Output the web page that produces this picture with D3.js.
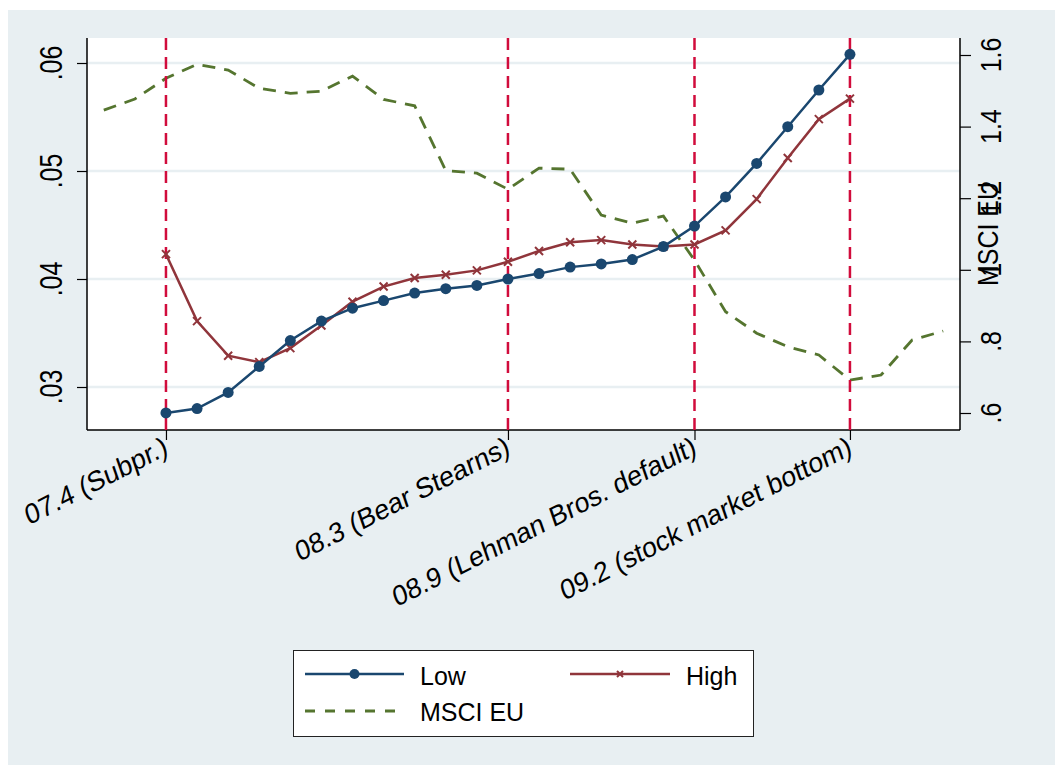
<!DOCTYPE html>
<html>
<head>
<meta charset="utf-8">
<script src="https://cdn.jsdelivr.net/npm/d3@7"></script>
<style>
  html, body { margin: 0; padding: 0; background: #fff; }
  svg text { font-family: "Liberation Sans", Arial, Helvetica, sans-serif; fill: #000; }
</style>
</head>
<body>
<div id="chart"></div>
<script>
// months on the x axis (MSCI runs longer than the rate series)
const months = ['07.2','07.3','07.4','07.5','07.6','07.7','07.8','07.9','07.10','07.11','07.12',
  '08.1','08.2','08.3','08.4','08.5','08.6','08.7','08.8','08.9','08.10','08.11','08.12',
  '09.1','09.2','09.3','09.4','09.5'];
const rateMonths = months.slice(2, 25); // 07.4 .. 09.2

const lowValues = [0.0276, 0.0280, 0.0295, 0.0319, 0.0343, 0.0361, 0.0373, 0.0380, 0.0387, 0.0391,
  0.0394, 0.0400, 0.0405, 0.0411, 0.0414, 0.0418, 0.0430, 0.0449, 0.0476, 0.0507, 0.0541, 0.0575, 0.0608];
const highValues = [0.0423, 0.0361, 0.0329, 0.0323, 0.0336, 0.0357, 0.0379, 0.0393, 0.0401, 0.0404,
  0.0408, 0.0416, 0.0426, 0.0434, 0.0436, 0.0432, 0.0430, 0.0432, 0.0445, 0.0474, 0.0512, 0.0548, 0.0567];
const msciValues = [1.446, 1.477, 1.535, 1.574, 1.558, 1.507, 1.493, 1.499, 1.541, 1.476, 1.458,
  1.277, 1.270, 1.225, 1.284, 1.281, 1.153, 1.130, 1.150, 1.027, 0.883, 0.823, 0.785, 0.762,
  0.692, 0.706, 0.804, 0.829];

const eventMonths = ['07.4', '08.3', '08.9', '09.2'];
const eventLabels = ['07.4 (Subpr.)', '08.3 (Bear Stearns)', '08.9 (Lehman Bros. default)', '09.2 (stock market bottom)'];

const leftTicks = [0.03, 0.04, 0.05, 0.06];
const leftTickLabels = ['.03', '.04', '.05', '.06'];
const rightTicks = [0.6, 0.8, 1.0, 1.2, 1.4, 1.6];
const rightTickLabels = ['.6', '.8', '1', '1.2', '1.4', '1.6'];

const W = 1055, H = 765;
const plot = { left: 87, right: 960, top: 38, bottom: 430 };

const colLow = '#1a476f', colHigh = '#90353b', colMsci = '#55752f', colEvent = '#d10c3c';

const svg = d3.select('#chart').append('svg')
  .attr('width', W).attr('height', H);

svg.append('rect').attr('x', 8).attr('y', 10).attr('width', W - 8).attr('height', H - 10)
  .attr('fill', '#e8eff2');
svg.append('rect').attr('x', plot.left).attr('y', plot.top)
  .attr('width', plot.right - plot.left).attr('height', plot.bottom - plot.top)
  .attr('fill', '#fff');

const x = d3.scalePoint().domain(months).range([plot.left, plot.right]).padding(0.54);
const yL = d3.scaleLinear().domain([0.026019, 0.062315]).range([plot.bottom, plot.top]);
const yR = d3.scaleLinear().domain([0.55251, 1.64749]).range([plot.bottom, plot.top]);

// gridlines on left ticks
svg.append('g').selectAll('line').data(leftTicks).enter().append('line')
  .attr('x1', plot.left).attr('x2', plot.right)
  .attr('y1', d => yL(d)).attr('y2', d => yL(d))
  .attr('stroke', '#e8eff2').attr('stroke-width', 2.5);

// left axis
const gl = svg.append('g').attr('transform', `translate(${plot.left},0)`)
  .call(d3.axisLeft(yL).tickValues(leftTicks).tickSize(10).tickFormat(''));
gl.select('.domain').attr('d', `M0,${plot.top}V${plot.bottom}`).attr('stroke', '#000').attr('stroke-width', 1.5);
gl.selectAll('.tick line').attr('stroke', '#000').attr('stroke-width', 1.2);
svg.append('g').selectAll('text').data(leftTicks).enter().append('text')
  .attr('transform', d => `translate(62,${yL(d)}) scale(1.22,1) rotate(-90)`)
  .attr('text-anchor', 'middle').attr('font-size', 25)
  .text((d, i) => leftTickLabels[i]);

// right axis
const gr = svg.append('g').attr('transform', `translate(${plot.right},0)`)
  .call(d3.axisRight(yR).tickValues(rightTicks).tickSize(11).tickFormat(''));
gr.select('.domain').attr('d', `M0,${plot.top}V${plot.bottom}`).attr('stroke', '#000').attr('stroke-width', 1.5);
gr.selectAll('.tick line').attr('stroke', '#000').attr('stroke-width', 1.2);
svg.append('g').selectAll('text').data(rightTicks).enter().append('text')
  .attr('transform', d => `translate(1001,${yR(d)}) scale(1.2,1) rotate(-90)`)
  .attr('text-anchor', 'middle').attr('font-size', 25)
  .text((d, i) => rightTickLabels[i]);
svg.append('text')
  .attr('transform', `translate(998,${(plot.top + plot.bottom) / 2}) scale(1.15,1) rotate(-90)`)
  .attr('text-anchor', 'middle').attr('font-size', 25)
  .text('MSCI EU');

// bottom axis
const gb = svg.append('g').attr('transform', `translate(0,${plot.bottom})`)
  .call(d3.axisBottom(x).tickValues(eventMonths).tickSize(10).tickFormat(''));
gb.select('.domain').attr('d', `M${plot.left},0H${plot.right}`).attr('stroke', '#000').attr('stroke-width', 1.5);
gb.selectAll('.tick line').attr('stroke', '#000').attr('stroke-width', 1.2);
svg.append('g').selectAll('text').data(eventMonths).enter().append('text')
  .attr('transform', d => `translate(${x(d) - 3},${plot.bottom + 5}) rotate(-27) skewX(-8)`)
  .attr('text-anchor', 'end').attr('dy', '0.72em').attr('font-size', 27.3)
  .text((d, i) => eventLabels[i]);

// MSCI dashed line
const msciLine = d3.line().x((d, i) => x(months[i])).y(d => yR(d));
svg.append('path').datum(msciValues)
  .attr('d', msciLine).attr('fill', 'none')
  .attr('stroke', colMsci).attr('stroke-width', 2.8).attr('stroke-dasharray', '13,9');

// event lines
svg.append('g').selectAll('line').data(eventMonths).enter().append('line')
  .attr('x1', d => x(d)).attr('x2', d => x(d))
  .attr('y1', plot.top).attr('y2', plot.bottom)
  .attr('stroke', colEvent).attr('stroke-width', 2.5).attr('stroke-dasharray', '12,7');

// High series
const rateLine = d3.line().x((d, i) => x(rateMonths[i])).y(d => yL(d));
svg.append('path').datum(highValues)
  .attr('d', rateLine).attr('fill', 'none')
  .attr('stroke', colHigh).attr('stroke-width', 2.5);
const xMark = s => `M${-s},${-s}L${s},${s}M${-s},${s}L${s},${-s}`;
svg.append('g').selectAll('path').data(highValues).enter().append('path')
  .attr('transform', (d, i) => `translate(${x(rateMonths[i])},${yL(d)})`)
  .attr('d', xMark(4)).attr('stroke', colHigh).attr('stroke-width', 2);

// Low series
svg.append('path').datum(lowValues)
  .attr('d', rateLine).attr('fill', 'none')
  .attr('stroke', colLow).attr('stroke-width', 2.5);
svg.append('g').selectAll('circle').data(lowValues).enter().append('circle')
  .attr('cx', (d, i) => x(rateMonths[i])).attr('cy', d => yL(d))
  .attr('r', 5.5).attr('fill', colLow);

// legend
const lg = svg.append('g');
lg.append('rect').attr('x', 293.5).attr('y', 650.5).attr('width', 460).attr('height', 86)
  .attr('fill', '#fff').attr('stroke', '#222').attr('stroke-width', 1);
lg.append('line').attr('x1', 305).attr('x2', 404).attr('y1', 674).attr('y2', 674)
  .attr('stroke', colLow).attr('stroke-width', 2.5);
lg.append('circle').attr('cx', 354.5).attr('cy', 674).attr('r', 5).attr('fill', colLow);
lg.append('text').attr('x', 420).attr('y', 685).attr('font-size', 25).text('Low');
lg.append('line').attr('x1', 570).attr('x2', 670).attr('y1', 674).attr('y2', 674)
  .attr('stroke', colHigh).attr('stroke-width', 2.5);
lg.append('path').attr('transform', 'translate(620,674)').attr('d', xMark(3))
  .attr('stroke', colHigh).attr('stroke-width', 2);
lg.append('text').attr('x', 686).attr('y', 685).attr('font-size', 25).text('High');
lg.append('line').attr('x1', 305).attr('x2', 404).attr('y1', 711).attr('y2', 711)
  .attr('stroke', colMsci).attr('stroke-width', 2.8).attr('stroke-dasharray', '10,10');
lg.append('text').attr('x', 420).attr('y', 721).attr('font-size', 25).text('MSCI EU');
</script>
</body>
</html>
